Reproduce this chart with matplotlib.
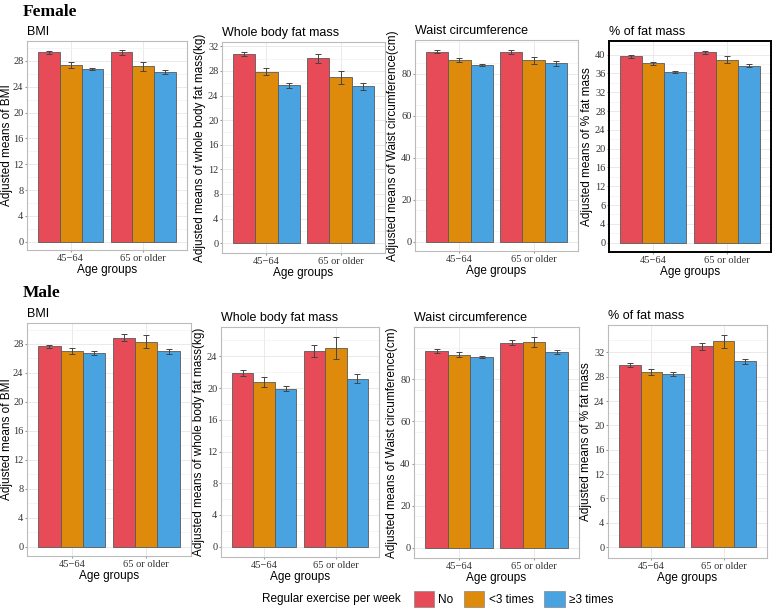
import matplotlib.pyplot as plt
import matplotlib.transforms as mtransforms
from matplotlib.patches import Patch

# Data
age_groups = ['45\u221264', '65 or older']
exercise = ['No', '<3 times', '\u22653 times']
colors = ['#E64B57', '#DE8B0B', '#48A3E0']

# female: rows = exercise level, cols = age group
f_bmi = [[29.33, 29.33], [27.38, 27.17], [26.71, 26.30]]
f_bmi_err = [[0.25, 0.40], [0.40, 0.67], [0.15, 0.30]]
f_fat = [[30.70, 30.06], [27.90, 26.93], [25.63, 25.47]]
f_fat_err = [[0.35, 0.70], [0.55, 1.10], [0.35, 0.55]]
f_waist = [[90.5, 90.3], [86.35, 86.35], [83.97, 84.9]]
f_waist_err = [[0.6, 1.0], [0.95, 1.75], [0.4, 1.1]]
f_pct = [[39.65, 40.5], [38.16, 38.94], [36.31, 37.66]]
f_pct_err = [[0.3, 0.35], [0.3, 0.7], [0.15, 0.3]]

# male
m_bmi = [[27.67, 28.87], [27.08, 28.32], [26.75, 26.98]]
m_bmi_err = [[0.25, 0.45], [0.40, 0.87], [0.23, 0.32]]
m_fat = [[21.9, 24.67], [20.77, 25.1], [19.93, 21.15]]
m_fat_err = [[0.42, 0.8], [0.59, 1.4], [0.31, 0.57]]
m_waist = [[93.5, 97.46], [91.76, 97.78], [90.65, 92.87]]
m_waist_err = [[0.8, 1.2], [1.2, 2.4], [0.5, 1.0]]
m_pct = [[29.97, 32.99], [28.76, 33.8], [28.43, 30.57]]
m_pct_err = [[0.3, 0.6], [0.44, 1.07], [0.33, 0.41]]

titles = ['BMI', 'Whole body fat mass', 'Waist circumference', '% of fat mass']
ylabels = ['Adjusted means of BMI',
           'Adjusted means of whole body fat mass(kg)',
           'Adjusted means of Waist circumference(cm)',
           'Adjusted means of % fat mass']

# tick labels as printed in the figure (the "6" is what the original shows)
bmi_ticks = [0, 4, 8, 12, 16, 20, 24, 28]
fat_ticks_f = [0, 4, 8, 12, 16, 20, 24, 28, 32]
fat_ticks_m = [0, 4, 8, 12, 16, 20, 24]
waist_ticks = [0, 20, 40, 60, 80]
pct_ticks_f = [0, 4, 8, 12, 16, 20, 24, 28, 32, 36, 40]
pct_labels_f = ['0', '4', '6', '12', '16', '20', '24', '28', '32', '36', '40']
pct_ticks_m = [0, 4, 8, 12, 16, 20, 24, 28, 32]
pct_labels_m = ['0', '4', '6', '12', '16', '20', '24', '28', '32']

W, H = 777, 609
fig = plt.figure(figsize=(W / 100, H / 100), dpi=100)

serif = 'Liberation Serif'
sans = 'Liberation Sans'


def rect(x0, y0, x1, y1):
    return [x0 / W, 1 - y1 / H, (x1 - x0) / W, (y1 - y0) / H]


def panel(r, title, ylabel, vals, errs, ylim, ticks, labels, minor_step,
          dark=False, ylabel_x=None):
    ax = fig.add_axes(rect(*r))
    w = 0.3
    for i in range(3):
        xs = [g + 1 + (i - 1) * w for g in range(2)]
        ax.bar(xs, vals[i], width=w, color=colors[i], edgecolor='#5a5a5a',
               linewidth=0.6, zorder=3)
        ax.errorbar(xs, vals[i], yerr=errs[i], fmt='none', ecolor='#444444',
                    elinewidth=0.7, capsize=2, capthick=0.7, zorder=4)
    ax.set_xlim(0.4, 2.6)
    ax.set_ylim(*ylim)
    ax.set_xticks([1, 2])
    ax.set_xticklabels(age_groups, fontfamily=serif, fontsize=7.5)
    ax.set_yticks(ticks)
    ax.set_yticklabels(labels if labels else [str(t) for t in ticks],
                       fontfamily=serif, fontsize=7.5)
    mn = []
    v = minor_step
    while v < ylim[1]:
        mn.append(v)
        v += 2 * minor_step
    ax.set_yticks(mn, minor=True)
    ax.tick_params(axis='y', which='minor', length=0)
    ax.tick_params(axis='both', which='major', length=1.6, color='#999999',
                   pad=1, labelcolor='#333333')
    ax.grid(True, which='major', color='#e6e6e6', lw=0.6, zorder=0)
    ax.grid(True, which='minor', axis='y', color='#f2f2f2', lw=0.5, zorder=0)
    ax.set_axisbelow(True)
    for s in ax.spines.values():
        s.set_color('black' if dark else '#bbbbbb')
        s.set_linewidth(1.4 if dark else 0.8)
    ax.set_title(title, loc='left', fontfamily=sans, fontsize=9, pad=4)
    ax.set_ylabel(ylabel, fontfamily=sans, fontsize=8.5, labelpad=1.5)
    if ylabel_x is not None:
        tr = mtransforms.blended_transform_factory(fig.transFigure, ax.transAxes)
        ax.yaxis.set_label_coords(ylabel_x / W, 0.5, transform=tr)
    ax.set_xlabel('Age groups', fontfamily=sans, fontsize=8.5, labelpad=1)
    return ax


# Female row
panel((27, 41, 187, 250), titles[0], ylabels[0], f_bmi, f_bmi_err,
      (-1.3, 31.1), bmi_ticks, None, 2, ylabel_x=13)
panel((222, 42, 385, 253), titles[1], ylabels[1], f_fat, f_fat_err,
      (-1.6, 32.7), fat_ticks_f, None, 2)
panel((415, 40, 578, 251), titles[2], ylabels[2], f_waist, f_waist_err,
      (-4.3, 96.0), waist_ticks, None, 5)
panel((609, 41, 771, 252), titles[3], ylabels[3], f_pct, f_pct_err,
      (-2.0, 42.9), pct_ticks_f, pct_labels_f, 2, dark=True)

# Male row
panel((27, 323, 191, 556), titles[0], ylabels[0], m_bmi, m_bmi_err,
      (-1.3, 30.9), bmi_ticks, None, 2, ylabel_x=13)
panel((221, 327, 379, 557), titles[1], ylabels[1], m_fat, m_fat_err,
      (-1.3, 27.7), fat_ticks_m, None, 2)
panel((414, 327, 579, 558), titles[2], ylabels[2], m_waist, m_waist_err,
      (-4.9, 104.9), waist_ticks, None, 5)
panel((608, 325, 767, 558), titles[3], ylabels[3], m_pct, m_pct_err,
      (-1.8, 36.5), pct_ticks_m, pct_labels_m, 2)

fig.text(23 / W, 1 - 12 / H, 'Female', fontfamily=serif, fontweight='bold',
         fontsize=12.5, va='center', ha='left')
fig.text(23 / W, 1 - 293 / H, 'Male', fontfamily=serif, fontweight='bold',
         fontsize=12.5, va='center', ha='left')

# legend
fig.text(262 / W, 1 - 599 / H, 'Regular exercise per week', fontfamily=sans,
         fontsize=8.5, va='center', ha='left')
handles = [Patch(facecolor=c, edgecolor='#888888', lw=0.5) for c in colors]
leg = fig.legend(handles, exercise, loc='center left',
                 bbox_to_anchor=(403 / W, 1 - 599 / H), ncol=3, frameon=False,
                 handlelength=1.7, handleheight=1.7, handletextpad=0.4,
                 columnspacing=0.9, prop={'family': sans, 'size': 8.5})

fig.savefig('out.png', dpi=100)
